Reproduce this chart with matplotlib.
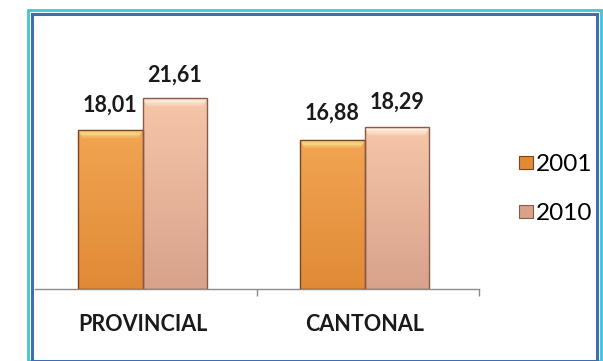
import numpy as np
import matplotlib
matplotlib.use("Agg")
import matplotlib.pyplot as plt
from matplotlib.colors import LinearSegmentedColormap, to_rgb
from matplotlib.patches import Rectangle, Polygon, Patch

plt.rcParams['font.family'] = ['Lato', 'DejaVu Sans']

# datos
categorias = ['PROVINCIAL', 'CANTONAL']
anios = ['2001', '2010']
valores_2001 = [18.01, 16.88]
valores_2010 = [21.61, 18.29]

# estilo de cada serie: (arriba, abajo, borde, bisel)
estilo = {
    '2001': ('#f2a552', '#e08a36', '#7a4420', '#f8e08e'),
    '2010': ('#f6c6a8', '#d8a28b', '#8a5a48', '#fdeedd'),
}
# separación entre la barra y la línea base de su etiqueta (puntos)
desp_2001 = [13, 14.5]
desp_2010 = [11.5, 13.5]


def fmt(v):
    return f'{v:.2f}'.replace('.', ',')


def mezcla(c1, c2, t):
    a, b = np.array(to_rgb(c1)), np.array(to_rgb(c2))
    return tuple(a * (1 - t) + b * t)


def barra_degradada(ax, bar, c_arriba, c_abajo, c_bisel):
    x, y = bar.get_x(), bar.get_y()
    w, h = bar.get_width(), bar.get_height()
    cmap = LinearSegmentedColormap.from_list('g', [c_abajo, c_arriba])
    grad = np.linspace(0, 1, 256).reshape(-1, 1)
    im = ax.imshow(grad, cmap=cmap, extent=(x, x + w, y, y + h),
                   origin='lower', aspect='auto', zorder=2)
    im.set_clip_path(bar)
    # bisel superior en franjas
    d = 0.9
    m = w * 0.06
    n = 6
    for i in range(n):
        t0, t1 = i / n, (i + 1) / n
        y0, y1 = y + h - d * t0, y + h - d * t1
        col = mezcla(c_bisel, c_arriba, t0 ** 2)
        ax.add_patch(Polygon([(x + m * t0, y0), (x + w - m * t0, y0),
                              (x + w - m * t1, y1), (x + m * t1, y1)],
                             closed=True, facecolor=col, edgecolor='none',
                             zorder=3))


fig = plt.figure(figsize=(6.03, 3.61), dpi=100)
fig.patch.set_facecolor('white')

# marco doble
W, H = 603, 361
fig.patches.append(Rectangle((28 / W, 0), 573 / W, 351 / H, transform=fig.transFigure,
                             fill=False, edgecolor='#45c2da', linewidth=2.0))
fig.patches.append(Rectangle((32 / W, 0), 565 / W, 347 / H, transform=fig.transFigure,
                             fill=False, edgecolor='#3b6fae', linewidth=2.2))

ax = fig.add_axes([35 / W, 72 / H, 444 / W, 250 / H])
ax.set_facecolor('none')

x = np.arange(len(categorias))
ancho = 0.29
xc = x - 0.015
b1 = ax.bar(xc - ancho / 2, valores_2001, ancho, color='none',
            edgecolor=estilo['2001'][2], linewidth=1.0, zorder=4)
b2 = ax.bar(xc + ancho / 2, valores_2010, ancho, color='none',
            edgecolor=estilo['2010'][2], linewidth=1.0, zorder=4)

for barras, anio in ((b1, '2001'), (b2, '2010')):
    c_arr, c_abj, _, c_bis = estilo[anio]
    for bar in barras:
        barra_degradada(ax, bar, c_arr, c_abj, c_bis)

for barras, vals, desp in ((b1, valores_2001, desp_2001), (b2, valores_2010, desp_2010)):
    for bar, v, dy in zip(barras, vals, desp):
        ax.annotate(fmt(v), (bar.get_x() + bar.get_width() / 2, v),
                    xytext=(0, dy), textcoords='offset points',
                    ha='center', va='baseline', fontsize=15.5, fontweight='bold',
                    color='#1a1a1a', zorder=5)

ax.set_xlim(-0.5, 1.5)
ax.set_ylim(0, 28.3)
for s in ('left', 'right', 'top'):
    ax.spines[s].set_visible(False)
ax.spines['bottom'].set_color('#8c8c8c')
ax.spines['bottom'].set_linewidth(1.0)
ax.set_yticks([])
ax.set_xticks(xc)
ax.set_xticklabels(categorias, fontsize=15.5, fontweight='bold', color='#1a1a1a')
ax.tick_params(axis='x', which='major', length=0, pad=18)
ax.set_xticks([0.5, 1.5], minor=True)
ax.tick_params(axis='x', which='minor', length=5, color='#8c8c8c', width=1)

handles = [Patch(facecolor=estilo[a][1], edgecolor=estilo[a][2], linewidth=0.8) for a in anios]
fig.legend(handles, anios, loc='center left', bbox_to_anchor=(507 / W, 1 - 189 / H),
           frameon=False, fontsize=17.5, handlelength=0.55, handleheight=0.45,
           handletextpad=0.12, labelspacing=1.15, borderpad=0)

fig.savefig('out.png', dpi=100)
